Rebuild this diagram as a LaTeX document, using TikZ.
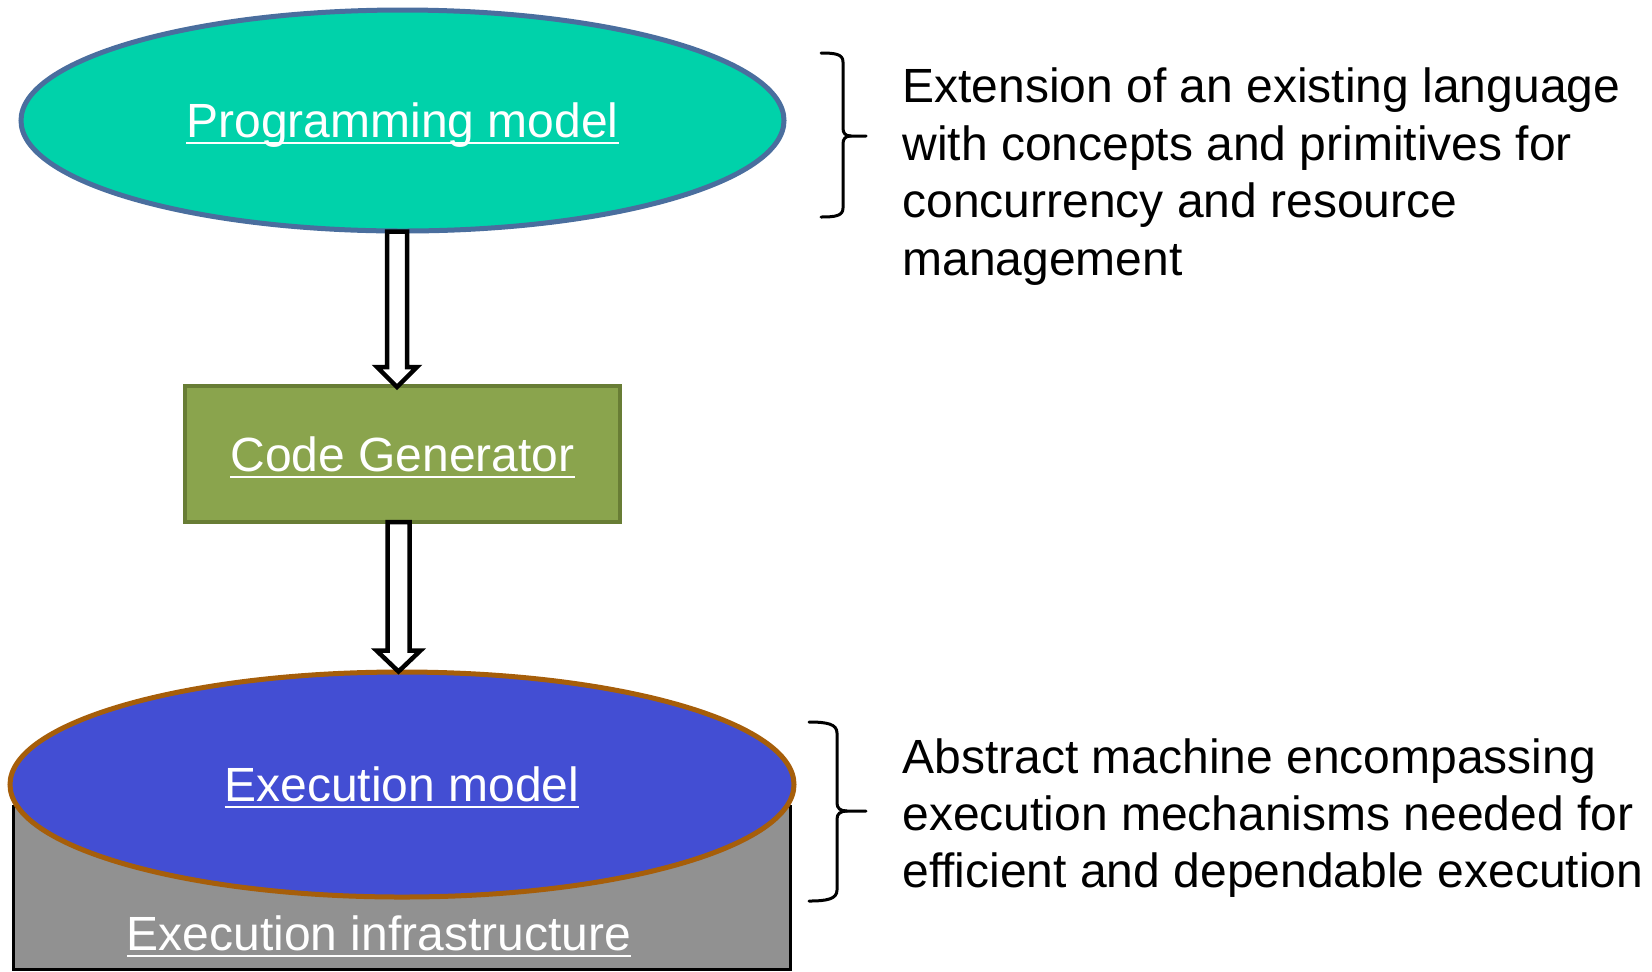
\documentclass[tikz,border=0pt]{standalone}
\usepackage{fontspec}
\setmainfont{Liberation Sans}
\usetikzlibrary{shapes.geometric,calc}

\definecolor{pmfill}{RGB}{0,210,170}
\definecolor{pmedge}{RGB}{74,110,158}
\definecolor{cgfill}{RGB}{138,164,77}
\definecolor{cgedge}{RGB}{104,125,53}
\definecolor{emfill}{RGB}{67,78,211}
\definecolor{emedge}{RGB}{166,94,10}
\definecolor{infrafill}{RGB}{145,145,145}

% underlined label text: the rule runs through the descenders
\newcommand\ultext[1]{\setbox0=\hbox{#1}\rlap{\rule[-3.3pt]{\wd0}{1pt}}\box0}

\tikzset{
  bigfont/.style={font=\fontsize{24}{28.8}\selectfont},
  shapelabel/.style={bigfont, text=white, text height=17.2pt, text depth=0pt, inner sep=0pt},
  noteline/.style={bigfont, text=black, inner sep=0pt, anchor=base west},
  blockarr/.style={draw=black, fill=white, line width=2.25pt, line join=miter, miter limit=10},
  bracepen/.style={draw=black, line width=1.5pt, line cap=round}
}

% block arrow: #1 start, #2 tip, #3 half shaft width, #4 half head width, #5 head length
\newcommand\blockarrow[5]{%
  \draw[blockarr] let \p1=(#1), \p2=(#2) in
    (\x1-#3,\y1) -- (\x1-#3,\y2+#5) -- (\x1-#4,\y2+#5) -- (\x1,\y2)
    -- (\x1+#4,\y2+#5) -- (\x1+#3,\y2+#5) -- (\x1+#3,\y1) -- cycle;}

\begin{document}
\begin{tikzpicture}[x=0.5pt, y=-0.5pt]
\useasboundingbox (0,0) rectangle (1652,971);

% execution infrastructure base, partly hidden by the execution model
\node[rectangle, draw=black, fill=infrafill, line width=1.5pt,
      minimum width=388.5pt, minimum height=81.5pt, inner sep=0pt] (infra) at (402,888) {};
\node[bigfont, text=white, inner sep=0pt, anchor=base] (infratext) at (379,950) {\ultext{Execution infrastructure}};

% programming model
\node[ellipse, draw=pmedge, fill=pmfill, line width=2.5pt,
      minimum width=381.5pt, minimum height=110.5pt, shapelabel] (pm) at (402.5,120.5) {\ultext{Programming model}};

% code generator
\node[rectangle, draw=cgedge, fill=cgfill, line width=2pt,
      minimum width=217.5pt, minimum height=68pt, shapelabel] (cg) at (402.5,454) {\ultext{Code Generator}};

% execution model
\node[ellipse, draw=emedge, fill=emfill, line width=2.5pt,
      minimum width=392pt, minimum height=112.5pt, shapelabel] (em) at (402,784.5) {\ultext{Execution model}};

% flow arrows
\blockarrow{[xshift=-2.75pt,yshift=1pt]pm.south}{[yshift=-1.5pt]cg.north}{5pt}{10pt}{10pt}
\blockarrow{[xshift=-2pt,yshift=1pt]cg.south}{[yshift=-1pt]em.north}{5.5pt}{11pt}{10.5pt}

% brace for the programming model
\draw[bracepen] (821,53) .. controls (835,53) and (843,54) .. (843,62) -- (843,128)
  .. controls (843,133) and (845,136) .. (851,136) -- (866,136);
\draw[bracepen] (821,217) .. controls (835,217) and (843,216) .. (843,208) -- (843,144)
  .. controls (843,139) and (845,136) .. (851,136);

% brace for the execution model
\draw[bracepen] (809,722) .. controls (827,722) and (837,724) .. (837,733) -- (837,803)
  .. controls (837,808) and (840,811) .. (847,811) -- (866,811);
\draw[bracepen] (809,901) .. controls (827,901) and (837,899) .. (837,890) -- (837,819)
  .. controls (837,814) and (840,811) .. (847,811);

% notes
\node[noteline] (pmnote1) at (902,102) {Extension of an existing language};
\node[noteline] (pmnote2) at (902,160) {with concepts and primitives for};
\node[noteline] (pmnote3) at (902,217.5) {concurrency and resource};
\node[noteline] (pmnote4) at (902,275) {management};

\node[noteline] (emnote1) at (902,773) {Abstract machine encompassing};
\node[noteline] (emnote2) at (902,830) {execution mechanisms needed for};
\node[noteline] (emnote3) at (902,887) {efficient and dependable execution};
\end{tikzpicture}
\end{document}
